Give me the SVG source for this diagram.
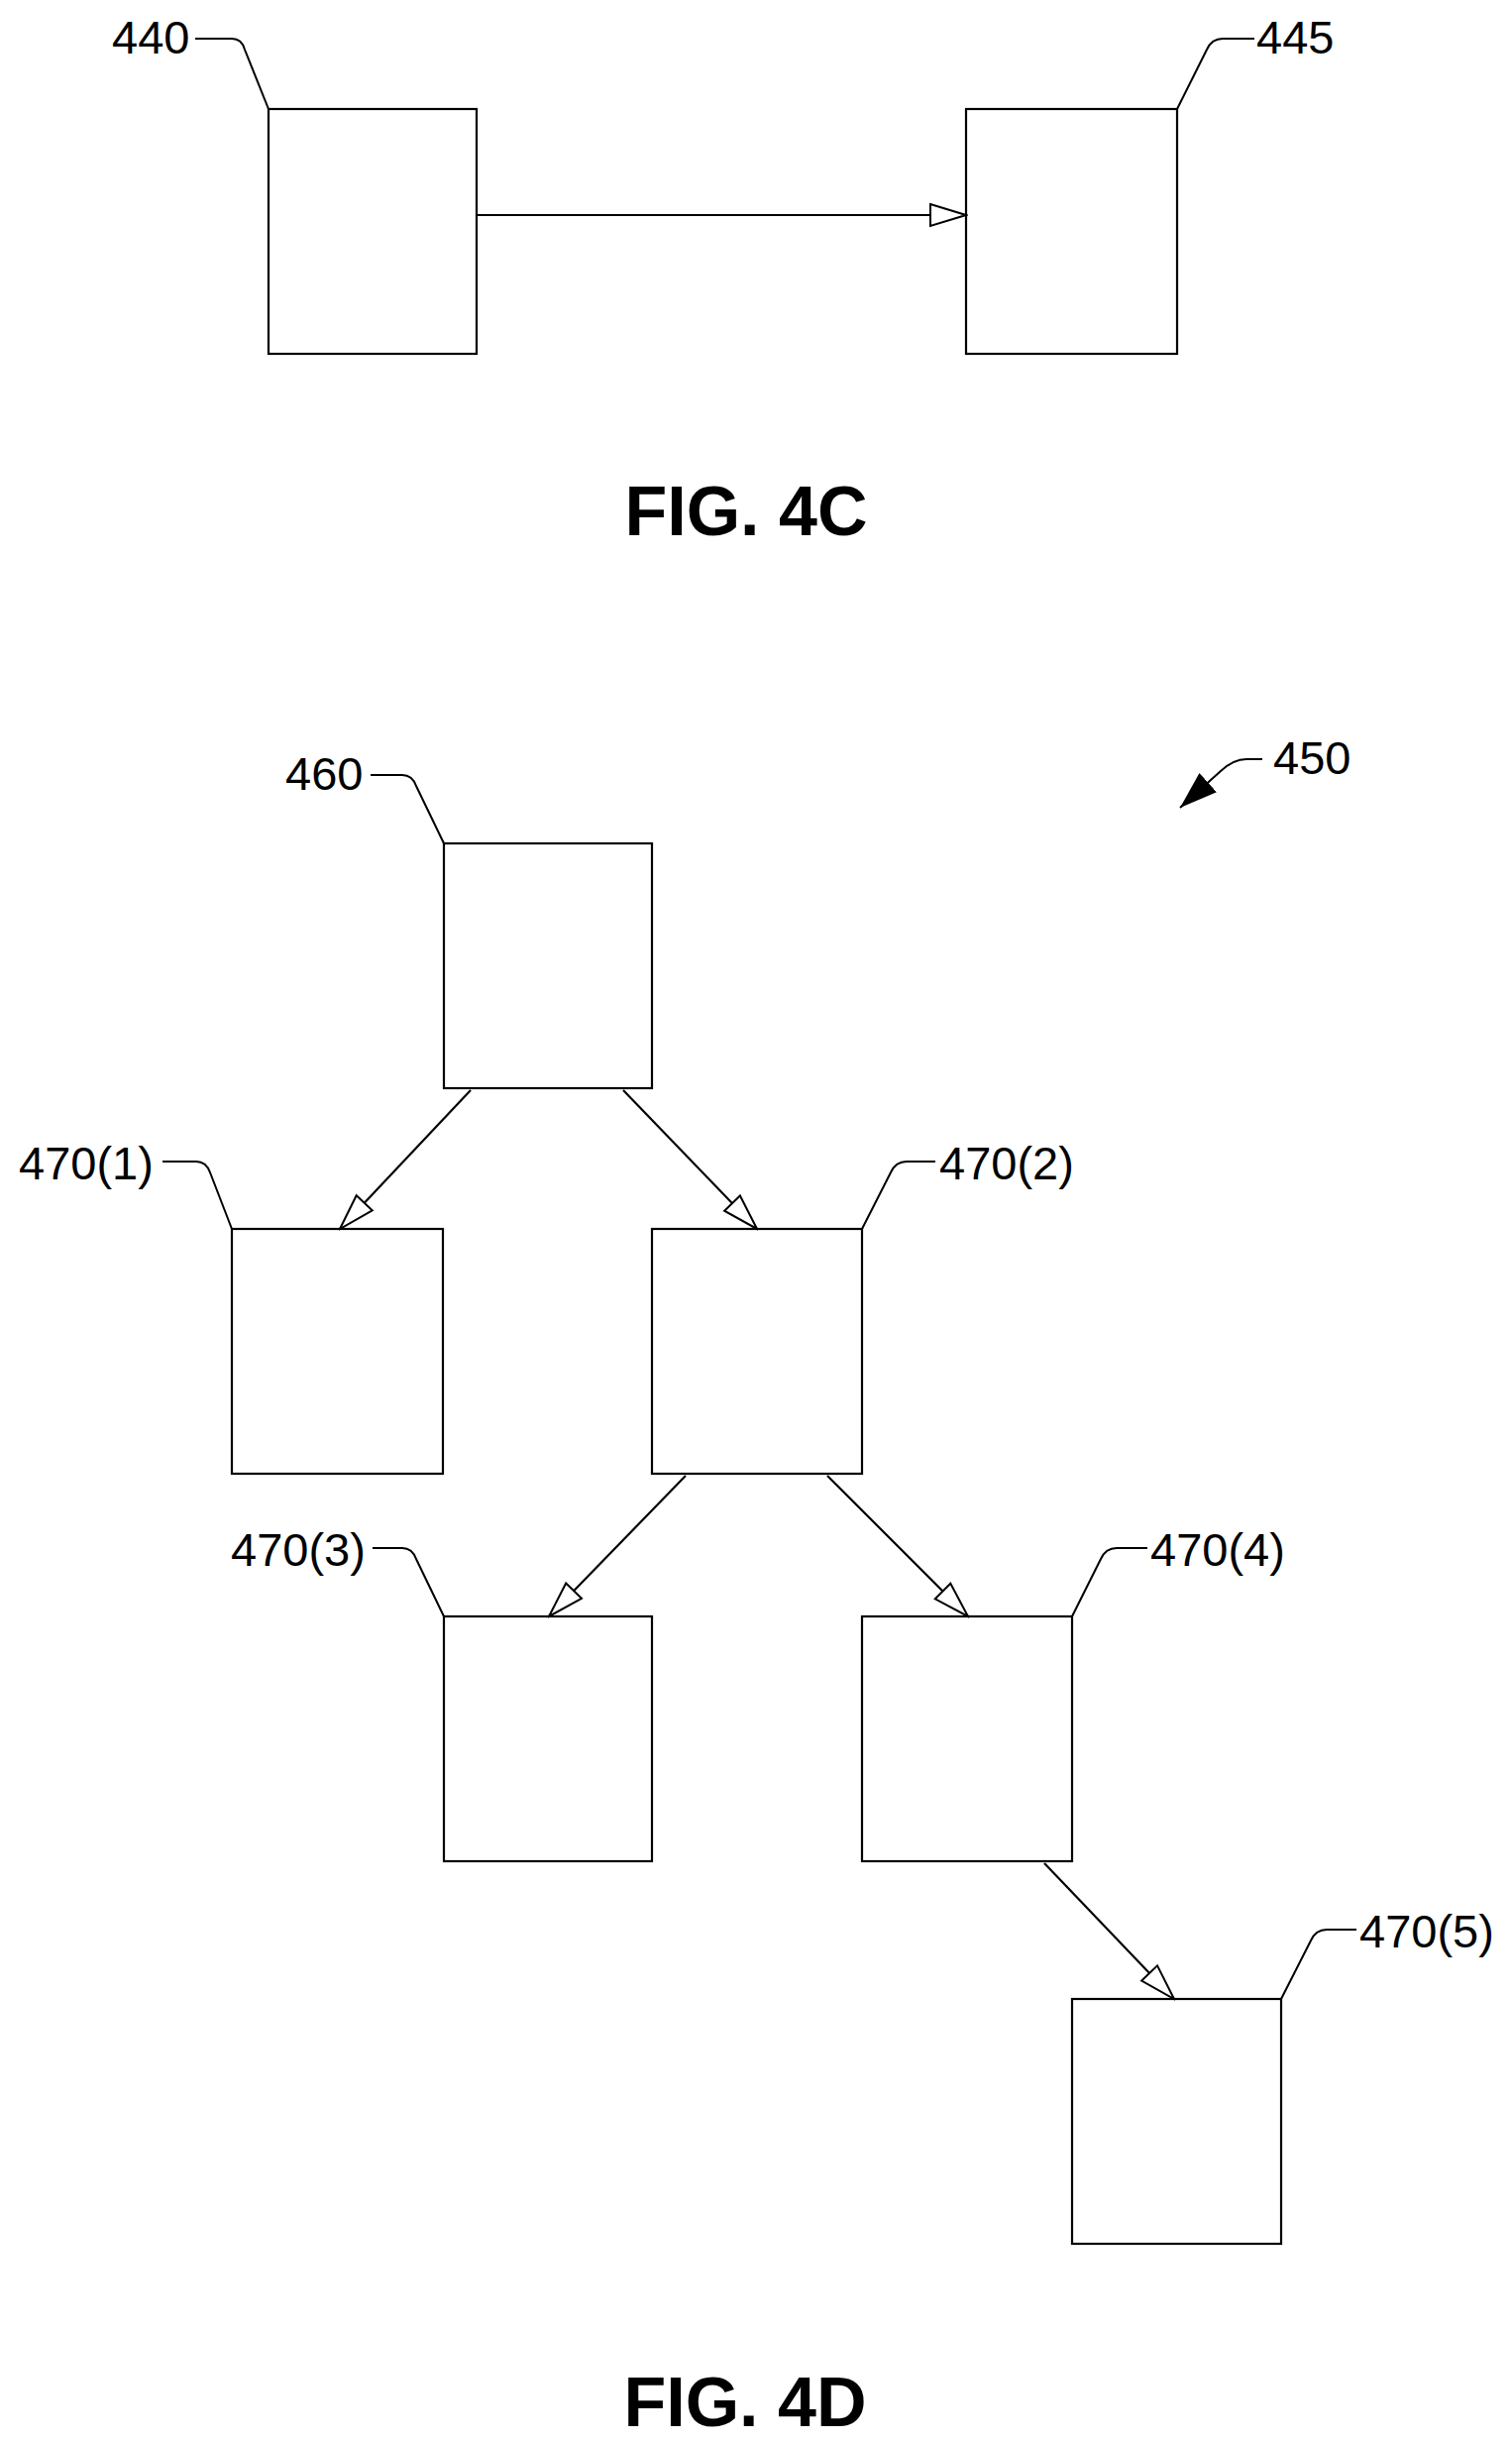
<svg xmlns="http://www.w3.org/2000/svg" width="1526" height="2463" viewBox="0 0 1526 2463">
<style>
.box{fill:#fff;stroke:#000;stroke-width:2.2}
.ld{fill:none;stroke:#000;stroke-width:2}
.cn{fill:none;stroke:#000;stroke-width:2.2}
.lb{font-family:"Liberation Sans",Arial,sans-serif;font-size:47px;fill:#000}
.fig{font-family:"Liberation Sans",Arial,sans-serif;font-size:70px;font-weight:bold;fill:#000;text-anchor:middle}
</style>
<defs>
<marker id="ah" markerWidth="40" markerHeight="26" refX="38" refY="13" orient="auto" markerUnits="userSpaceOnUse">
<path d="M2,2 L38,13 L2,24 Z" fill="#fff" stroke="#000" stroke-width="2"/>
</marker>
<marker id="fa" markerWidth="40" markerHeight="30" refX="38" refY="15" orient="auto" markerUnits="userSpaceOnUse">
<path d="M0,2 L38,15 L0,28 Z" fill="#000"/>
</marker>
</defs>
<g id="n440"><rect class="box" x="271" y="110" width="210" height="247"/><text class="lb" x="113" y="54">440</text><path class="ld" d="M197,39 H234 Q244,39 247,50 L271,110"/></g>
<g id="n445"><rect class="box" x="975" y="110" width="213" height="247"/><text class="lb" x="1268" y="54">445</text><path class="ld" d="M1188,110 L1218,50 Q1223,39 1234,39 H1266"/></g>
<text class="fig" x="753" y="540">FIG. 4C</text>
<g id="n450"><text class="lb" x="1285" y="781">450</text><path class="ld" d="M1274,766 H1258 Q1245,766 1232,778 L1191,815" marker-end="url(#fa)"/></g>
<g id="n460"><rect class="box" x="448" y="851" width="210" height="247"/><text class="lb" x="288" y="797">460</text><path class="ld" d="M374,782 H406 Q416,782 420,793 L448,851"/></g>
<g id="n470_1"><rect class="box" x="234" y="1240" width="213" height="247"/><text class="lb" x="19" y="1190">470(1)</text><path class="ld" d="M164,1172 H198 Q208,1172 212,1183 L234,1240"/></g>
<g id="n470_2"><rect class="box" x="658" y="1240" width="212" height="247"/><text class="lb" x="948" y="1190">470(2)</text><path class="ld" d="M870,1240 L899,1183 Q904,1172 915,1172 H944"/></g>
<g id="n470_3"><rect class="box" x="448" y="1631" width="210" height="247"/><text class="lb" x="233" y="1580">470(3)</text><path class="ld" d="M376,1562 H406 Q416,1562 420,1573 L448,1631"/></g>
<g id="n470_4"><rect class="box" x="870" y="1631" width="212" height="247"/><text class="lb" x="1161" y="1580">470(4)</text><path class="ld" d="M1082,1631 L1111,1573 Q1116,1562 1127,1562 H1158"/></g>
<g id="n470_5"><rect class="box" x="1082" y="2017" width="211" height="247"/><text class="lb" x="1372" y="1965">470(5)</text><path class="ld" d="M1293,2017 L1323,1958 Q1328,1947 1339,1947 H1369"/></g>
<text class="fig" x="752" y="2448">FIG. 4D</text>
<g id="connectors">
<line class="cn" x1="481" y1="217" x2="975" y2="217" marker-end="url(#ah)"/>
<line class="cn" x1="475" y1="1100" x2="343" y2="1240" marker-end="url(#ah)"/>
<line class="cn" x1="629" y1="1100" x2="764" y2="1240" marker-end="url(#ah)"/>
<line class="cn" x1="692" y1="1489" x2="554" y2="1631" marker-end="url(#ah)"/>
<line class="cn" x1="835" y1="1489" x2="977" y2="1631" marker-end="url(#ah)"/>
<line class="cn" x1="1054" y1="1880" x2="1185" y2="2017" marker-end="url(#ah)"/>
</g>
</svg>
